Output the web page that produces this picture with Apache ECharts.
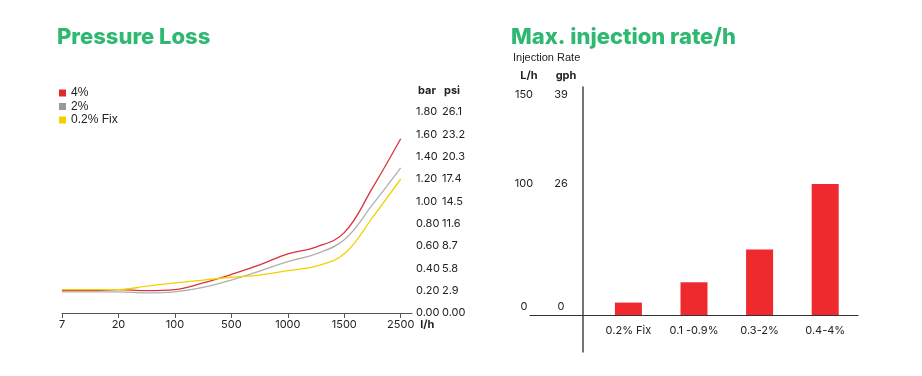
<!DOCTYPE html>
<html>
<head>
<meta charset="utf-8">
<script src="https://cdn.jsdelivr.net/npm/echarts@6/dist/echarts.min.js"></script>
<style>
html,body{margin:0;padding:0;background:#fff;}
#chart{width:922px;height:376px;}
</style>
</head>
<body>
<div id="chart"></div>
<script>
// ---- Pressure loss chart data ----
const flowLabels = ['7', '20', '100', '500', '1000', '1500', '2500'];
const flowPos = [0, 0.5, 1, 1.5, 2, 2.5, 3, 3.5, 4, 4.5, 5, 5.5, 6];
const loss4 =   [0.20, 0.20, 0.21, 0.20, 0.21, 0.27, 0.345, 0.43, 0.53, 0.59, 0.72, 1.12, 1.56];
const loss2 =   [0.19, 0.19, 0.19, 0.18, 0.19, 0.23, 0.295, 0.375, 0.46, 0.53, 0.655, 0.97, 1.30];
const loss02 =  [0.21, 0.21, 0.21, 0.24, 0.27, 0.295, 0.32, 0.34, 0.38, 0.42, 0.53, 0.855, 1.20];
const barTicks = [0, 0.2, 0.4, 0.6, 0.8, 1.0, 1.2, 1.4, 1.6, 1.8];
const barLabels = ['0.00', '0.20', '0.40', '0.60', '0.80', '1.00', '1.20', '1.40', '1.60', '1.80'];
const psiLabels = ['0.00', '2.9', '5.8', '8.7', '11.6', '14.5', '17.4', '20.3', '23.2', '26.1'];

// ---- Injection rate chart data ----
const rateCats = ['', '0.2% Fix', '0.1 -0.9%', '0.3-2%', '0.4-4%'];
const rateVals = [null, 9.5, 25, 50, 100];
const rateTicks = [0, 100, 150];
const lhLabels = ['0', '100', '150'];
const gphLabels = ['0', '26', '39'];

const GREEN = '#2eb872';
const RED = '#d9323a', GRAY = '#b0b0b0', YELLOW = '#f2d300';

const chart = echarts.init(document.getElementById('chart'));

function pairs(xs, ys) { return xs.map((x, i) => [x, ys[i]]); }

const lineSeries = (name, data, color) => ({
  name, type: 'line', xAxisIndex: 0, yAxisIndex: 0,
  data: pairs(flowPos, data), smooth: 0.4, showSymbol: false, symbol: 'none',
  lineStyle: { color, width: 1.3 }, itemStyle: { color }
});

const tick = { fontFamily: 'Inter', fontSize: 11, color: '#222' };
const tickB = { fontFamily: 'Inter', fontWeight: 'bold', fontSize: 11, color: '#222' };

chart.setOption({
  animation: false,
  title: [
    { text: 'Pressure Loss', left: 52, top: 21, textStyle: { color: GREEN, fontFamily: 'Inter', fontWeight: 800, fontSize: 22 } },
    { text: 'Max. injection rate/h', left: 506, top: 21, textStyle: { color: GREEN, fontFamily: 'Inter', fontWeight: 800, fontSize: 22 } },
    { text: 'Injection Rate', left: 508, top: 47, textStyle: { color: '#222', fontFamily: 'Liberation Sans', fontWeight: 'normal', fontSize: 11 } },
    { text: '{a|L/h}{b|gph}', left: 506, top: 65,
      textStyle: { rich: { a: Object.assign({ width: 36, align: 'center' }, tickB), b: Object.assign({ width: 38, align: 'center' }, tickB) } } },
    { text: '{a|bar}{b|psi}', left: 413, top: 80,
      textStyle: { rich: { a: Object.assign({ width: 26 }, tickB), b: tickB } } }
  ],
  legend: {
    orient: 'vertical', left: 54, top: 82, itemWidth: 7, itemHeight: 7, itemGap: 1.5,
    icon: 'rect',
    data: [
      { name: '4%', itemStyle: { color: '#e02a2a' } },
      { name: '2%', itemStyle: { color: '#999' } },
      { name: '0.2% Fix', itemStyle: { color: '#f5d000' } }
    ],
    textStyle: { fontFamily: 'Liberation Sans', fontSize: 12, color: '#222' }
  },
  grid: [
    { left: 62, right: 510, top: 112, bottom: 63, containLabel: false },
    { left: 530, right: 64, top: 87, bottom: 24, containLabel: false }
  ],
  xAxis: [
    {
      gridIndex: 0, type: 'value', min: 0, max: 6.2,
      axisLine: { show: true, onZero: false, lineStyle: { color: '#555', width: 1 } },
      axisTick: { show: true, length: 5, customValues: [0, 1, 2, 3, 4, 5, 6], lineStyle: { color: '#555' } },
      axisLabel: Object.assign({ customValues: [0, 1, 2, 3, 4, 5, 6], margin: 6,
        formatter: v => flowLabels[Math.round(v)] }, tick),
      splitLine: { show: false },
      name: 'l/h', nameLocation: 'end', nameGap: 8,
      nameTextStyle: Object.assign({ verticalAlign: 'top', padding: [6, 0, 0, 0] }, tickB)
    },
    {
      gridIndex: 1, type: 'category', data: rateCats, boundaryGap: true,
      axisLine: { show: true, onZero: true, lineStyle: { color: '#333', width: 1.2 } },
      axisTick: { show: false },
      axisLabel: Object.assign({ margin: -27, interval: 0 }, tick),
      splitLine: { show: false }
    }
  ],
  yAxis: [
    {
      gridIndex: 0, type: 'value', position: 'right', min: 0, max: 1.8,
      axisLine: { show: false }, axisTick: { show: false }, splitLine: { show: false },
      axisLabel: {
        customValues: barTicks, margin: 4,
        formatter: v => { const i = barTicks.findIndex(t => Math.abs(t - v) < 1e-6); return '{a|' + barLabels[i] + '}{b|' + psiLabels[i] + '}'; },
        rich: { a: Object.assign({ width: 26 }, tick), b: tick }
      }
    },
    {
      gridIndex: 1, type: 'value', position: 'left', offset: -53, min: -28.2, max: 174,
      axisLine: { show: true, lineStyle: { color: '#444', width: 1.5 } },
      axisTick: { show: false }, splitLine: { show: false },
      axisLabel: {
        customValues: rateTicks, margin: 3,
        formatter: v => {
          const i = rateTicks.indexOf(v);
          const s = v === 0 ? 'z' : (v === 150 ? 't' : '');
          return '{a' + s + '|' + lhLabels[i] + '}{b' + s + '|' + gphLabels[i] + '}';
        },
        rich: {
          a: Object.assign({ width: 36, align: 'center' }, tick),
          b: Object.assign({ width: 38, align: 'center' }, tick),
          az: Object.assign({ width: 36, align: 'center', padding: [0, 0, 16, 0] }, tick),
          bz: Object.assign({ width: 38, align: 'center', padding: [0, 0, 16, 0] }, tick),
          at: Object.assign({ width: 36, align: 'center', padding: [0, 0, 48, 0] }, tick),
          bt: Object.assign({ width: 38, align: 'center', padding: [0, 0, 48, 0] }, tick)
        }
      }
    }
  ],
  series: [
    lineSeries('4%', loss4, RED),
    lineSeries('2%', loss2, GRAY),
    lineSeries('0.2% Fix', loss02, YELLOW),
    {
      name: 'rate', type: 'bar', xAxisIndex: 1, yAxisIndex: 1, data: rateVals,
      barWidth: 27, itemStyle: { color: '#ee2a2f' }
    }
  ]
});
</script>
</body>
</html>
